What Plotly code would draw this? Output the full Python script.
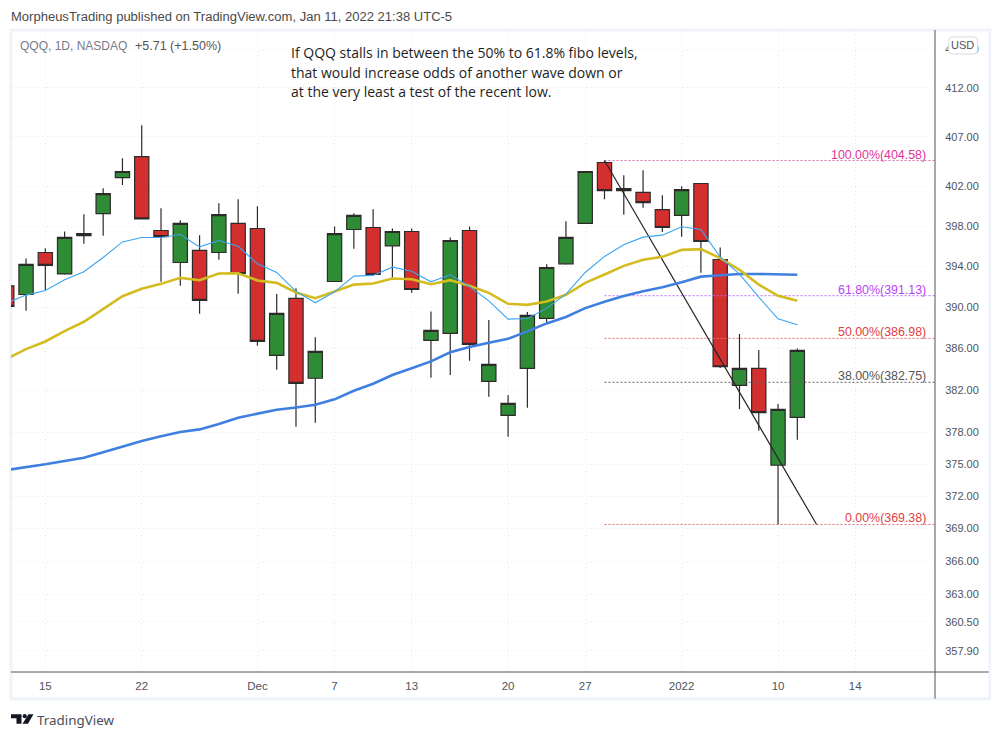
import math
import plotly.graph_objects as go

sessions = ["2021-11-11","2021-11-12","2021-11-15","2021-11-16","2021-11-17","2021-11-18","2021-11-19",
            "2021-11-22","2021-11-23","2021-11-24","2021-11-26","2021-11-29","2021-11-30","2021-12-01",
            "2021-12-02","2021-12-03","2021-12-06","2021-12-07","2021-12-08","2021-12-09","2021-12-10",
            "2021-12-13","2021-12-14","2021-12-15","2021-12-16","2021-12-17","2021-12-20","2021-12-21",
            "2021-12-22","2021-12-23","2021-12-27","2021-12-28","2021-12-29","2021-12-30","2021-12-31",
            "2022-01-03","2022-01-04","2022-01-05","2022-01-06","2022-01-07","2022-01-10","2022-01-11"]
opens = [392.10,391.25,395.38,393.27,397.26,399.25,402.86,404.98,397.56,394.39,395.58,395.38,398.26,397.76,
         385.34,390.87,383.14,392.52,397.66,397.86,396.04,397.46,386.79,387.46,397.56,382.84,379.60,384.09,
         388.92,394.26,398.26,404.38,401.76,401.36,399.65,399.06,402.26,394.69,382.45,384.09,374.89,379.41]
highs = [392.40,394.79,395.81,397.46,399.19,401.78,404.81,408.17,399.79,398.59,397.10,400.28,400.69,399.99,
         391.29,391.85,387.08,397.96,399.28,399.69,397.76,397.76,389.59,396.87,397.96,388.75,381.53,389.53,
         394.23,398.49,403.50,404.58,403.10,403.60,401.09,401.99,402.30,395.87,387.40,385.85,380.68,386.01]
lows = [389.80,389.66,391.68,393.18,396.24,397.03,402.12,398.70,392.49,392.10,389.37,394.66,391.32,386.26,
        383.95,378.52,378.90,392.49,395.74,393.15,392.91,391.41,383.18,383.46,384.81,381.37,377.57,380.32,
        388.43,394.16,398.20,400.69,399.12,399.83,397.42,396.93,393.38,384.11,380.20,378.15,369.38,377.29]
closes = [390.08,394.20,394.10,396.87,397.06,401.25,403.47,398.72,396.96,398.26,390.67,399.15,393.31,386.68,
          389.41,382.65,385.72,397.26,399.06,393.21,397.46,391.74,387.75,396.57,386.40,384.47,380.74,389.21,
          393.90,396.87,403.47,401.55,401.55,400.35,397.86,401.65,396.47,384.24,384.09,379.85,380.17,385.82]
ma_fast = [390.44,391.19,391.64,392.69,393.48,394.89,396.43,396.87,396.87,397.16,395.94,396.57,396.00,394.26,
           393.41,391.55,390.44,391.51,393.05,393.12,393.93,393.54,392.49,393.18,392.03,390.63,388.85,388.91,
           389.89,391.29,393.41,394.99,396.14,396.90,397.10,397.93,397.66,394.92,393.24,390.99,388.88,388.29]
ma_mid = [385.01,385.94,386.68,387.68,388.59,389.82,391.08,391.81,392.29,392.88,392.65,393.31,393.34,392.62,
          392.39,391.45,390.89,391.55,392.22,392.33,392.82,392.75,392.26,392.65,392.10,391.41,390.34,390.24,
          390.56,391.22,392.39,393.21,394.06,394.66,394.95,395.64,395.71,394.82,393.67,392.22,391.12,390.63]
ma_slow = [374.45,374.70,374.98,375.29,375.60,376.11,376.67,377.17,377.62,378.02,378.27,378.78,379.38,379.75,
           380.13,380.34,380.60,381.12,381.94,382.61,383.45,384.09,384.76,385.63,386.14,386.55,386.94,387.66,
           388.43,389.06,389.92,390.54,391.10,391.56,391.95,392.44,393.00,393.13,393.26,393.26,393.19,393.19]

fib_values = [404.58, 391.13, 386.98, 382.75, 369.38]
fib_labels = ["100.00%(404.58)", "61.80%(391.13)", "50.00%(386.98)", "38.00%(382.75)", "0.00%(369.38)"]
fib_text_colors = ["#e0359a", "#b545f5", "#e0403f", "#555555", "#e0403f"]
fib_line_colors = ["#e070b0", "#c060ff", "#e07070", "#666666", "#e07070"]

x_tick_sessions = ["2021-11-15","2021-11-22","2021-12-01","2021-12-07","2021-12-13","2021-12-20","2021-12-27",
                   "2022-01-03","2022-01-10"]
x_tick_labels = ["15","22","Dec","7","13","20","27","2022","10","14"]
y_ticks = [357.9,360.5,363,366,369,372,375,378,382,386,390,394,398,402,407,412,416]
note_lines = ["If QQQ stalls in between the 50% to 61.8% fibo levels,",
              "that would increase odds of another wave down or",
              "at the very least a test of the recent low."]

W, H = 1001, 739
L, R, T, B = 11.0, 935.3, 31.0, 672.3
def px(v): return (v - L) / (R - L)
def py(v): return 1 - (v - T) / (B - T)

idx = list(range(len(sessions)))
SESSION_14 = 44
X_LEFT, X_RIGHT, FIB_START, TREND_END = 0.22, 48.14, 31, 42
Y_LOW, Y_HIGH = 356.0, 417.9
TICK_FONT = "Liberation Sans"
NOTE_FONT = "Open Sans"

fig = go.Figure()
for v, c in zip(fib_values, fib_line_colors):
    fig.add_trace(go.Scatter(x=[FIB_START, X_RIGHT], y=[v, v], mode="lines",
                             line=dict(color=c, width=1, dash="2px,2px"), hoverinfo="skip"))
fig.add_trace(go.Scatter(x=[FIB_START, TREND_END], y=[fib_values[0], fib_values[-1]], mode="lines",
                         line=dict(color="#262626", width=1.2), hoverinfo="skip"))
fig.add_trace(go.Candlestick(x=idx, open=opens, high=highs, low=lows, close=closes, whiskerwidth=0,
                             increasing=dict(fillcolor="#2e8b36", line=dict(color="#2e2a2a", width=1.2)),
                             decreasing=dict(fillcolor="#d32f2f", line=dict(color="#2e2a2a", width=1.2))))
fig.add_trace(go.Scatter(x=idx, y=ma_slow, mode="lines", line=dict(color="#3f7fe0", width=2.6), hoverinfo="skip"))
fig.add_trace(go.Scatter(x=idx, y=ma_mid, mode="lines", line=dict(color="#d4bc20", width=2.6), hoverinfo="skip"))
fig.add_trace(go.Scatter(x=idx, y=ma_fast, mode="lines", line=dict(color="#3ba3f0", width=1.1), hoverinfo="skip"))

shapes = [
    dict(type="rect", xref="paper", yref="paper", x0=px(11), x1=px(990), y0=py(30), y1=py(699),
         line=dict(color="#f0f3fa", width=3), layer="below"),
    dict(type="line", xref="paper", yref="paper", x0=px(R), x1=px(R), y0=py(30), y1=py(699),
         line=dict(color="#50535e", width=1)),
    dict(type="line", xref="paper", yref="paper", x0=0, x1=px(989), y0=0, y1=0,
         line=dict(color="#50535e", width=1)),
    dict(type="path", xref="paper", yref="paper",
         path=" ".join(["M", f"{px(952)},{py(37)}", "L", f"{px(974)},{py(37)}",
                        "Q", f"{px(978)},{py(37)}", f"{px(978)},{py(41)}", "L", f"{px(978)},{py(50)}",
                        "Q", f"{px(978)},{py(54)}", f"{px(974)},{py(54)}", "L", f"{px(952)},{py(54)}",
                        "Q", f"{px(949)},{py(54)}", f"{px(949)},{py(50)}", "L", f"{px(949)},{py(41)}",
                        "Q", f"{px(949)},{py(37)}", f"{px(952)},{py(37)}", "Z"]),
         fillcolor="#ffffff", line=dict(color="#d8dbe3", width=1)),
]
def poly(points):
    return "M " + " L ".join(f"{px(a)},{py(b)}" for a, b in points) + " Z"
logo = [[(11, 714.5), (21.5, 714.5), (21.5, 724), (16.5, 724), (16.5, 718.5), (11, 718.5)],
        [(28.5, 714.5), (33.5, 714.5), (28, 724), (22.5, 724)]]
for p in logo:
    shapes.append(dict(type="path", xref="paper", yref="paper", path=poly(p), fillcolor="#131722",
                       line=dict(width=0)))
shapes.append(dict(type="circle", xref="paper", yref="paper", x0=px(22.6), x1=px(26.8), y0=py(714.4), y1=py(718.6),
                   fillcolor="#131722", line=dict(width=0)))

def note(text, x, y, size, color, font, anchor="left"):
    return dict(text=text, xref="paper", yref="paper", x=px(x), y=py(y), xanchor=anchor, yanchor="middle",
                showarrow=False, align=anchor, font=dict(family=font, size=size, color=color))

ann = [note("MorpheusTrading published on TradingView.com, Jan 11, 2022 21:38 UTC-5", 9, 16, 13.02, "#4a4a4a", TICK_FONT),
       note("QQQ, 1D, NASDAQ", 18, 46, 12, "#787b86", TICK_FONT),
       note("+5.71 (+1.50%)", 133, 46, 12.5, "#555555", TICK_FONT),
       note("USD", 963, 45, 11, "#50535e", TICK_FONT, "center"),
       note("TradingView", 35, 720, 13.4, "#4a4e59", "Noto Sans")]
for t, y in zip(note_lines, [53, 73, 92]):
    ann.append(note(t, 289, y, 14, "#1e1e1e", NOTE_FONT))
for lab, v, c in zip(fib_labels, fib_values, fib_text_colors):
    ann.append(dict(text=lab, xref="paper", yref="y", x=px(928), y=math.log10(v), xanchor="right", yanchor="bottom",
                    showarrow=False, yshift=-3, font=dict(family=TICK_FONT, size=12.4, color=c)))

tick_pos = [sessions.index(s) for s in x_tick_sessions] + [SESSION_14]
fig.update_layout(
    width=W, height=H, margin=dict(l=L, r=W - R, t=T, b=H - B, autoexpand=False),
    paper_bgcolor="#ffffff", plot_bgcolor="#ffffff", showlegend=False, boxgap=0.26, boxgroupgap=0,
    shapes=shapes, annotations=ann, hovermode=False,
    xaxis=dict(type="linear", range=[X_LEFT, X_RIGHT], rangeslider=dict(visible=False), tickmode="array",
               tickvals=tick_pos, ticktext=x_tick_labels, showgrid=True, gridcolor="#e8eaef", griddash="1px,3px",
               gridwidth=1, zeroline=False, showline=False, ticks="outside", ticklen=3,
               tickcolor="rgba(0,0,0,0)", tickfont=dict(family=TICK_FONT, size=11.5, color="#50535e")),
    yaxis=dict(type="log", range=[math.log10(Y_LOW), math.log10(Y_HIGH)], side="right", tickmode="array",
               tickvals=y_ticks, ticktext=[f"{v:.2f}" for v in y_ticks], showgrid=True, gridcolor="#e8eaef",
               griddash="1px,3px", gridwidth=1, zeroline=False, showline=False, ticks="outside", ticklen=7,
               tickcolor="rgba(0,0,0,0)", tickfont=dict(family=TICK_FONT, size=11, color="#50535e")),
)
fig.write_html("out.html", config=dict(displayModeBar=False), post_script="document.body.style.margin='0';")
